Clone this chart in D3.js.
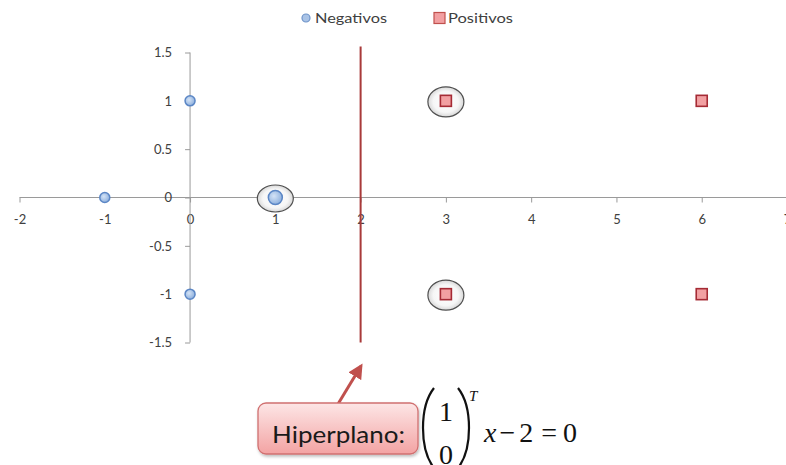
<!DOCTYPE html>
<html>
<head>
<meta charset="utf-8">
<script src="https://cdn.jsdelivr.net/npm/d3@7"></script>
<style>
  html, body { margin: 0; padding: 0; background: #fff; }
  svg { display: block; }
</style>
</head>
<body>
<svg id="chart" width="786" height="465"></svg>
<script>
// ---- data ----
const negX = [-1, 0, 0, 1];
const negY = [0, 1, -1, 0];
const posX = [3, 3, 6, 6];
const posY = [1, -1, 1, -1];
const circledX = [1, 3, 3];
const circledY = [0, 1, -1];
const hyperplaneX = 2;
const xTicks = [-2, -1, 0, 1, 2, 3, 4, 5, 6, 7];
const yTicks = [-1.5, -1, -0.5, 0, 0.5, 1, 1.5];
const legendLabels = ["Negativos", "Positivos"];
const calloutLabel = "Hiperplano:";

const svg = d3.select("#chart");
const x = d3.scaleLinear().domain([-2, 7]).range([19.5, 787]);
const y = d3.scaleLinear().domain([-1.5, 1.5]).range([342.5, 52.5]);

const defs = svg.append("defs");
const blueG = defs.append("radialGradient").attr("id", "blueG").attr("cx", "40%").attr("cy", "40%").attr("r", "60%");
blueG.append("stop").attr("offset", "0%").attr("stop-color", "#d4e3f6");
blueG.append("stop").attr("offset", "100%").attr("stop-color", "#8fb1de");
const ringG = defs.append("radialGradient").attr("id", "ringG");
ringG.append("stop").attr("offset", "0%").attr("stop-color", "#ffffff");
ringG.append("stop").attr("offset", "70%").attr("stop-color", "#f6f6f6");
ringG.append("stop").attr("offset", "100%").attr("stop-color", "#d8d8d8");
const boxG = defs.append("linearGradient").attr("id", "boxG").attr("x1", 0).attr("y1", 0).attr("x2", 0).attr("y2", 1);
boxG.append("stop").attr("offset", "0%").attr("stop-color", "#fde6e6");
boxG.append("stop").attr("offset", "100%").attr("stop-color", "#f3a3a3");
const shadow = defs.append("filter").attr("id", "shadow").attr("x", "-20%").attr("y", "-20%").attr("width", "140%").attr("height", "150%");
shadow.append("feDropShadow").attr("dx", 1).attr("dy", 2).attr("stdDeviation", 1.5).attr("flood-color", "#000").attr("flood-opacity", 0.25);
defs.append("marker").attr("id", "arrow").attr("viewBox", "0 0 10 10").attr("refX", 8).attr("refY", 5)
  .attr("markerWidth", 5).attr("markerHeight", 5).attr("orient", "auto")
  .append("path").attr("d", "M0,0 L10,5 L0,10 z").attr("fill", "#c0504d");

const axisColor = "#9a9a9a";
const labelColor = "#404040";
const fontFam = "Lato, 'Open Sans', sans-serif";

// ---- x axis (at y=0) ----
const xAxis = d3.axisBottom(x).tickValues(xTicks).tickSize(5).tickFormat(d3.format("d"));
const gx = svg.append("g").attr("transform", `translate(0,${y(0)})`).call(xAxis);
gx.select(".domain").attr("stroke", axisColor).attr("d", `M${x(-2)},0H786`);
gx.selectAll(".tick line").attr("stroke", axisColor);
gx.selectAll(".tick text").attr("fill", labelColor).attr("font-family", fontFam).attr("font-size", 13).attr("dy", "1.45em")
  .text(d => d < 0 ? "-" + Math.abs(d) : d);

// ---- y axis (at x=0) ----
const yAxis = d3.axisLeft(y).tickValues(yTicks).tickSize(5).tickPadding(13);
const gy = svg.append("g").attr("transform", `translate(${x(0)},0)`).call(yAxis);
gy.select(".domain").attr("stroke", axisColor).attr("d", `M0,${y(1.5)}V${y(-1.5)}`);
gy.selectAll(".tick line").attr("stroke", axisColor);
gy.selectAll(".tick text").attr("fill", labelColor).attr("font-family", fontFam).attr("font-size", 13)
  .text(d => d < 0 ? "-" + Math.abs(d) : d);

// ---- hyperplane ----
svg.append("line").attr("x1", x(hyperplaneX)).attr("x2", x(hyperplaneX))
  .attr("y1", y(1.5) - 6).attr("y2", y(-1.5)).attr("stroke", "#a83a3a").attr("stroke-width", 2);

// ---- rings around support vectors ----
svg.append("g").selectAll("ellipse").data(circledX.map((d, i) => [d, circledY[i]])).join("ellipse")
  .attr("cx", d => x(d[0])).attr("cy", d => y(d[1]) + 1)
  .attr("rx", 18).attr("ry", d => d[1] === 0 ? 13.5 : 15)
  .attr("fill", "url(#ringG)").attr("stroke", "#505050").attr("stroke-width", 1.2);

// ---- negative points ----
svg.append("g").selectAll("circle").data(negX.map((d, i) => [d, negY[i]])).join("circle")
  .attr("cx", d => x(d[0])).attr("cy", d => y(d[1]))
  .attr("r", d => (d[0] === 1 ? 7 : 5))
  .attr("fill", "url(#blueG)").attr("stroke", "#5b86c5").attr("stroke-width", 1.5);

// ---- positive points ----
const sq = 11;
svg.append("g").selectAll("rect").data(posX.map((d, i) => [d, posY[i]])).join("rect")
  .attr("x", d => x(d[0]) - sq / 2).attr("y", d => y(d[1]) - sq / 2)
  .attr("width", sq).attr("height", sq)
  .attr("fill", "#f2a0a2").attr("stroke", "#a52b35").attr("stroke-width", 1.6);

// ---- legend ----
const lg = svg.append("g").attr("font-family", fontFam).attr("font-size", 14).attr("fill", labelColor);
lg.append("circle").attr("cx", 306).attr("cy", 18).attr("r", 4).attr("fill", "#a9c3e6").attr("stroke", "#6f94c9").attr("stroke-width", 1.2);
lg.append("text").attr("x", 315).attr("y", 18).attr("dy", "0.35em").attr("textLength", 72).attr("lengthAdjust", "spacingAndGlyphs").text(legendLabels[0]);
lg.append("rect").attr("x", 434).attr("y", 12.5).attr("width", 11).attr("height", 11).attr("fill", "#f2a0a2").attr("stroke", "#c0504d").attr("stroke-width", 1.2);
lg.append("text").attr("x", 448).attr("y", 18).attr("dy", "0.35em").attr("textLength", 65).attr("lengthAdjust", "spacingAndGlyphs").text(legendLabels[1]);

// ---- callout ----
svg.append("line").attr("x1", 338).attr("y1", 404).attr("x2", 361).attr("y2", 366)
  .attr("stroke", "#c0504d").attr("stroke-width", 3).attr("marker-end", "url(#arrow)");
svg.append("rect").attr("x", 258).attr("y", 403).attr("width", 160).attr("height", 51).attr("rx", 8)
  .attr("fill", "url(#boxG)").attr("stroke", "#d07070").attr("stroke-width", 1.3).attr("filter", "url(#shadow)");
svg.append("text").attr("x", 272).attr("y", 443).attr("font-family", fontFam).attr("font-size", 24)
  .attr("fill", "#1a1a1a").attr("textLength", 133).attr("lengthAdjust", "spacingAndGlyphs").text(calloutLabel);

// ---- formula ----
const mf = "'Liberation Serif', 'Times New Roman', serif";
const fm = svg.append("g").attr("fill", "#111").attr("font-family", mf);
fm.append("path").attr("d", "M434,388 Q423,402 423,428 Q423,454 434,468").attr("fill", "none").attr("stroke", "#111").attr("stroke-width", 2.2);
fm.append("path").attr("d", "M458,388 Q469,402 469,428 Q469,454 458,468").attr("fill", "none").attr("stroke", "#111").attr("stroke-width", 2.2);
fm.append("text").attr("x", 446).attr("y", 421).attr("text-anchor", "middle").attr("font-size", 28).text("1");
fm.append("text").attr("x", 446).attr("y", 464).attr("text-anchor", "middle").attr("font-size", 28).text("0");
fm.append("text").attr("x", 469).attr("y", 401).attr("font-size", 15).attr("font-style", "italic").text("T");
const eq = fm.append("text").attr("x", 484).attr("y", 442).attr("font-size", 28);
eq.append("tspan").attr("font-style", "italic").text("x");
eq.append("tspan").attr("dx", 3).text("−");
eq.append("tspan").attr("dx", 4).text("2");
eq.append("tspan").attr("dx", 8).text("=");
eq.append("tspan").attr("dx", 6).text("0");
</script>
</body>
</html>
